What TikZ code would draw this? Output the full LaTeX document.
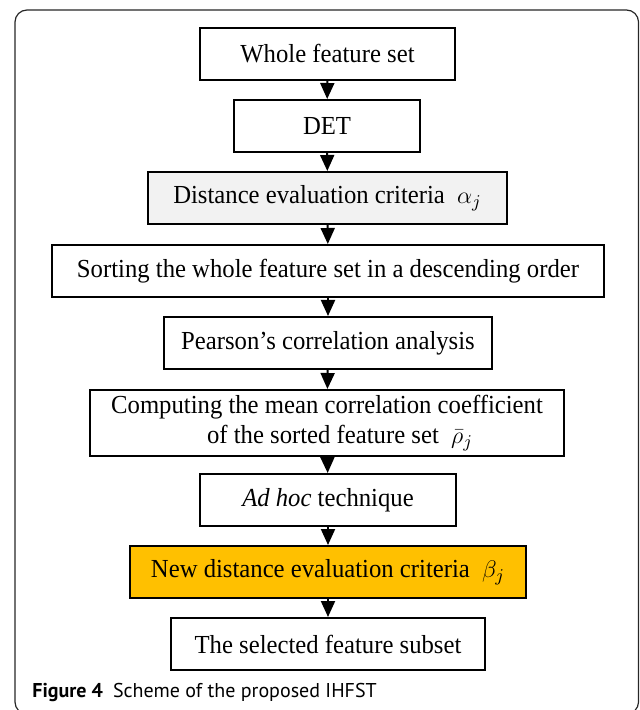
\documentclass[tikz,border=0pt]{standalone}
\usepackage{fontspec}
\setmainfont{Liberation Serif}[FakeStretch=0.95]
\newfontfamily\capfont{PT Sans}
\usetikzlibrary{arrows.meta}
\definecolor{boxgray}{RGB}{242,242,242}
\definecolor{boxorange}{RGB}{255,192,0}

\begin{document}
\begin{tikzpicture}[x=0.5pt,y=-0.5pt,
  box/.style={draw,line width=1pt,minimum height=26pt,inner sep=0pt,align=center,
    font=\fontsize{13}{15}\selectfont},
  arr/.style={line width=1pt,-{Triangle[length=8pt,width=7pt]}}]
\useasboundingbox (0,0) rectangle (639,710);
%\draw[step=10] (0,0) grid (639,710);
\draw[rounded corners=6pt,line width=0.6pt,black!85] (15,10) rectangle (638.5,714);
\node[box,minimum width=127.5pt] (whole) at (327.5,54) {Whole feature set};
\node[box,minimum width=93pt] (det) at (327,126) {DET};
\node[box,fill=boxgray,minimum width=179.5pt] (dist) at (327.5,198) {Distance evaluation criteria \ $\alpha_j$};
\node[box,minimum width=276pt] (sort) at (328,271) {Sorting the whole feature set in a descending order};
\node[box,minimum width=164pt] (pears) at (328,343) {Pearson's correlation analysis};
\node[box,minimum width=237pt,minimum height=33pt] (mean) at (327,423)
  {Computing the mean correlation coefficient\\ \quad of the sorted feature set \ $\bar{\rho}_j$};
\node[box,minimum width=128pt] (adhoc) at (328,500) {\textit{Ad hoc} technique};
\node[box,fill=boxorange,minimum width=198pt] (newdist) at (328,572) {New distance evaluation criteria \ $\beta_j$};
\node[box,minimum width=157pt] (subset) at (328,644) {The selected feature subset};
\draw[arr] (whole) -- (det);
\draw[arr] (det) -- (dist);
\draw[arr] (dist) -- (sort);
\draw[arr] (sort) -- (pears);
\draw[arr] (pears) -- (mean);
\draw[arr] (mean) -- (adhoc);
\draw[arr] (adhoc) -- (newdist);
\draw[arr] (newdist) -- (subset);
\node[anchor=base west,inner sep=0pt,font=\capfont\fontsize{10}{12}\selectfont] (cap) at (32,697)
  {\textbf{Figure 4}\hspace{5pt}Scheme of the proposed IHFST};
\end{tikzpicture}
\end{document}
